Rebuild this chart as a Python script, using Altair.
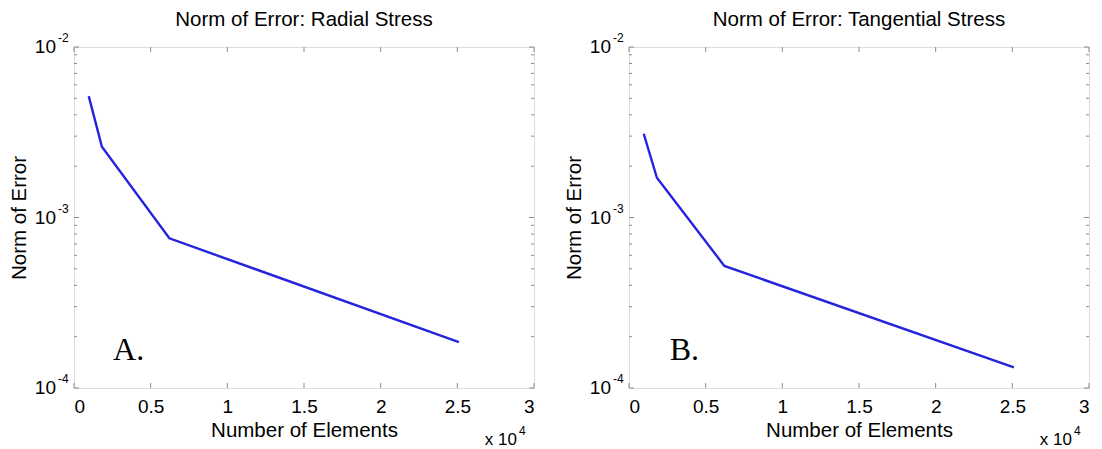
import altair as alt
import pandas as pd

# ---- data ----
elements = [960, 1820, 6220, 25100]
radial_err = [5.15e-3, 2.6e-3, 7.55e-4, 1.86e-4]
tangential_err = [3.1e-3, 1.71e-3, 5.2e-4, 1.32e-4]
panel_titles = ["Norm of Error: Radial Stress", "Norm of Error: Tangential Stress"]
panel_tags = ["A.", "B."]
tag_x = [2550, 2650]
tag_y = [1.45e-4, 1.45e-4]
x_ticks = [0, 5000, 10000, 15000, 20000, 25000, 30000]
y_major = [1e-4, 1e-3, 1e-2]
y_major_base = ["10", "10", "10"]
y_major_exp = ["-4", "-3", "-2"]
y_minor = [2e-4, 3e-4, 4e-4, 5e-4, 6e-4, 7e-4, 8e-4, 9e-4,
           2e-3, 3e-3, 4e-3, 5e-3, 6e-3, 7e-3, 8e-3, 9e-3]

W, H = 460, 341
FONT = "Liberation Sans"
FRAME = "#8a8a8a"
LINE = "#2424dc"

xs = alt.Scale(domain=[0, 30000], nice=False, zero=False)
ys = alt.Scale(type="log", domain=[1e-4, 1e-2], nice=False)

x_axis = alt.Axis(values=x_ticks, labelExpr="format(datum.value / 10000, '')",
                  ticks=False, domain=False, grid=False,
                  labelFont=FONT, labelFontSize=19, labelColor="black", labelPadding=9,
                  title="Number of Elements", titleFont=FONT, titleFontSize=20.5,
                  titleFontWeight="normal", titleColor="black", titlePadding=4)
y_axis = alt.Axis(labels=False, ticks=False, domain=False, grid=False,
                  title="Norm of Error", titleFont=FONT, titleFontSize=20.5,
                  titleFontWeight="normal", titleColor="black", titlePadding=45)


def X():
    return alt.X("n:Q", scale=xs, axis=x_axis)


def Y():
    return alt.Y("err:Q", scale=ys, axis=y_axis)


def panel(err, title, tag, tx, ty):
    line_df = pd.DataFrame({"n": elements, "err": err})
    xt_df = pd.DataFrame({"n": x_ticks})
    ymaj_df = pd.DataFrame({"err": y_major, "base": y_major_base, "exp": y_major_exp})
    ymin_df = pd.DataFrame({"err": y_minor})
    tag_df = pd.DataFrame({"n": [tx], "err": [ty], "t": [tag]})

    line = alt.Chart(line_df).mark_line(color=LINE, strokeWidth=2.4).encode(x=X(), y=Y())
    xb = alt.Chart(xt_df).mark_rule(color=FRAME, strokeWidth=1).encode(
        x=X(), y=alt.value(H), y2=alt.value(H - 5))
    xt = alt.Chart(xt_df).mark_rule(color=FRAME, strokeWidth=1).encode(
        x=X(), y=alt.value(0), y2=alt.value(5))
    yl = alt.Chart(ymaj_df).mark_rule(color=FRAME, strokeWidth=1).encode(
        y=Y(), x=alt.value(0), x2=alt.value(5))
    yr = alt.Chart(ymaj_df).mark_rule(color=FRAME, strokeWidth=1).encode(
        y=Y(), x=alt.value(W), x2=alt.value(W - 5))
    yml = alt.Chart(ymin_df).mark_rule(color=FRAME, strokeWidth=1).encode(
        y=Y(), x=alt.value(0), x2=alt.value(3))
    ymr = alt.Chart(ymin_df).mark_rule(color=FRAME, strokeWidth=1).encode(
        y=Y(), x=alt.value(W), x2=alt.value(W - 3))
    ylab = alt.Chart(ymaj_df).mark_text(font=FONT, fontSize=19, align="right",
                                        baseline="middle", color="black").encode(
        y=Y(), x=alt.value(-18), text="base:N")
    yexp = alt.Chart(ymaj_df).mark_text(font=FONT, fontSize=12, align="left",
                                        baseline="middle", dy=-9, color="black").encode(
        y=Y(), x=alt.value(-16), text="exp:N")
    tag_t = alt.Chart(tag_df).mark_text(font="Liberation Serif", fontSize=32, align="left",
                                        baseline="alphabetic", color="black").encode(
        x=X(), y=Y(), text="t:N")
    mult = alt.Chart(tag_df).mark_text(font=FONT, fontSize=17, align="right",
                                       baseline="alphabetic", color="black").encode(
        x=alt.value(W - 17), y=alt.value(H + 57), text=alt.value("x 10"))
    mult_e = alt.Chart(tag_df).mark_text(font=FONT, fontSize=12, align="left",
                                         baseline="alphabetic", color="black").encode(
        x=alt.value(W - 15), y=alt.value(H + 47), text=alt.value("4"))

    return alt.layer(line, xb, xt, yl, yr, yml, ymr, ylab, yexp, tag_t, mult, mult_e).properties(
        width=W, height=H,
        title=alt.TitleParams(title, font=FONT, fontSize=20.5, fontWeight="normal",
                              color="black", offset=2, anchor="middle"),
    )


left = panel(radial_err, panel_titles[0], panel_tags[0], tag_x[0], tag_y[0])
right = panel(tangential_err, panel_titles[1], panel_tags[1], tag_x[1], tag_y[1])

chart = alt.hconcat(left, right, spacing=28).properties(
    padding={"left": 0, "top": 1, "right": 0, "bottom": 0}
).configure_view(stroke=FRAME, strokeWidth=1).configure(background="white")

chart.save("out.html", embed_options={"renderer": "svg", "actions": False})
